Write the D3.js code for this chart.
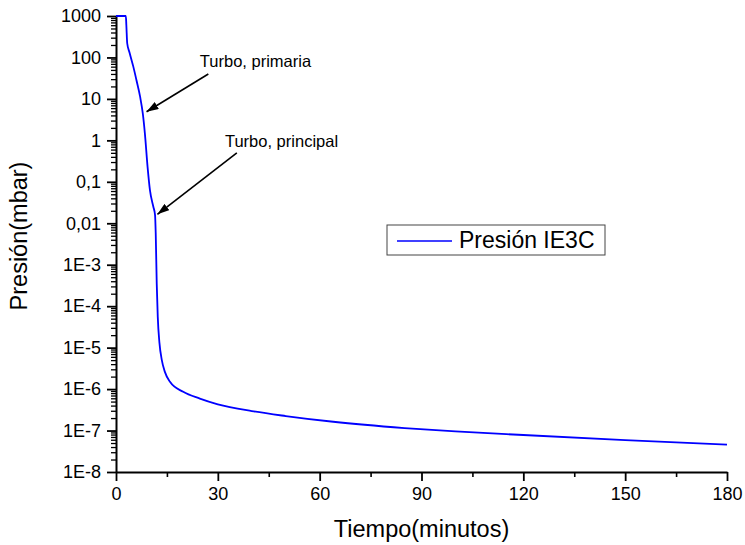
<!DOCTYPE html>
<html>
<head>
<meta charset="utf-8">
<script src="https://cdn.jsdelivr.net/npm/d3@7"></script>
<style>
  body { margin: 0; background: #fff; }
  svg text { font-family: "Liberation Sans", Arial, sans-serif; fill: #000; }
</style>
</head>
<body>
<svg id="chart" width="745" height="545"></svg>
<script>
/* ---------- data ---------- */
var timeMin = [0, 2.9, 3.05, 3.3, 4.0, 5.1, 6.0, 7.1, 7.9, 8.5, 9.3, 10.0, 11.0, 11.5, 11.7,
               12.0, 12.3, 12.8, 13.5, 14.4, 15.9, 19.8, 24.7, 30, 40, 50, 64, 85,
               100, 120, 150, 180];
var presion = [1000, 1000, 600, 220, 130, 60, 29, 11.3, 4.4, 1.5, 0.23, 0.063, 0.025, 0.016, 0.0058,
               3.5e-4, 5.6e-5, 1.3e-5, 5e-6, 2.6e-6, 1.5e-6, 8.6e-7, 5.9e-7, 4.3e-7, 2.95e-7, 2.24e-7, 1.63e-7, 1.15e-7,
               9.5e-8, 7.8e-8, 5.9e-8, 4.6e-8];

var xTicks = [0, 30, 60, 90, 120, 150, 180];
var xMinor = [15, 45, 75, 105, 135, 165];
var yTicks = [1000, 100, 10, 1, 0.1, 0.01, 1e-3, 1e-4, 1e-5, 1e-6, 1e-7, 1e-8];
var yLabels = ["1000", "100", "10", "1", "0,1", "0,01", "1E-3", "1E-4", "1E-5", "1E-6", "1E-7", "1E-8"];

var annText = ["Turbo, primaria", "Turbo, principal"];
var annTextAt = [[24.7, 60], [32.1, 0.70]];
var annTail = [[27.2, 40], [35.6, 0.50]];
var annTip = [[9.0, 4.9], [12.2, 0.0164]];

var seriesName = "Presión IE3C";

/* ---------- setup ---------- */
var svg = d3.select("#chart"),
    padL = 116, padR = 727, padT = 16, padB = 472;

var x = d3.scaleLinear().domain([0, 180]).range([padL, padR]);
var y = d3.scaleLog().domain([1e-8, 1000]).range([padB, padT]);

// minor log ticks 2..9 per decade
var yMinor = [];
for (var e = -8; e < 3; e++) {
    for (var k = 2; k <= 9; k++) yMinor.push(k * Math.pow(10, e));
}

/* ---------- axes ---------- */
svg.append("g")
    .attr("transform", "translate(0," + padB + ")")
    .call(d3.axisBottom(x).tickValues(xMinor).tickSize(5).tickSizeOuter(0).tickFormat(""))
    .call(function (g) { g.select(".domain").remove(); })
    .selectAll("line").attr("stroke-width", 1.6);

svg.append("g")
    .attr("transform", "translate(" + padL + ",0)")
    .call(d3.axisLeft(y).tickValues(yMinor).tickSize(5).tickSizeOuter(0).tickFormat(""))
    .call(function (g) { g.select(".domain").remove(); })
    .selectAll("line").attr("stroke-width", 1.3);

var xAxis = svg.append("g")
    .attr("transform", "translate(0," + padB + ")")
    .call(d3.axisBottom(x).tickValues(xTicks).tickSize(9).tickSizeOuter(0).tickPadding(6));

var yAxis = svg.append("g")
    .attr("transform", "translate(" + padL + ",0)")
    .call(d3.axisLeft(y).tickValues(yTicks).tickSize(9).tickSizeOuter(0).tickPadding(6)
        .tickFormat(function (d, i) { return yLabels[i]; }));

[xAxis, yAxis].forEach(function (g) {
    g.select(".domain").attr("stroke-width", 2);
    g.selectAll(".tick line").attr("stroke-width", 1.8);
    g.selectAll(".tick text").attr("font-size", 18).attr("font-family", "Liberation Sans, Arial, sans-serif");
});

// axis titles
svg.append("text")
    .attr("x", (padL + padR) / 2).attr("y", 537)
    .attr("text-anchor", "middle").attr("font-size", 23.5)
    .text("Tiempo(minutos)");

svg.append("text")
    .attr("transform", "translate(27," + 236 + ") rotate(-90)")
    .attr("text-anchor", "middle").attr("font-size", 23.5)
    .text("Presión(mbar)");

/* ---------- series ---------- */
var line = d3.line()
    .x(function (d) { return x(d[0]); })
    .y(function (d) { return y(d[1]); })
    .curve(d3.curveMonotoneX);

svg.append("path")
    .datum(d3.zip(timeMin, presion))
    .attr("fill", "none")
    .attr("stroke", "#0000ff")
    .attr("stroke-width", 1.8)
    .attr("d", line);

/* ---------- annotations ---------- */
svg.append("defs").append("marker")
    .attr("id", "arrow")
    .attr("viewBox", "0 0 12 8")
    .attr("refX", 12).attr("refY", 4)
    .attr("markerWidth", 12).attr("markerHeight", 8)
    .attr("markerUnits", "userSpaceOnUse")
    .attr("orient", "auto")
    .append("path").attr("d", "M0,0 L12,4 L0,8 Z").attr("fill", "#000");

annText.forEach(function (t, i) {
    svg.append("line")
        .attr("x1", x(annTail[i][0])).attr("y1", y(annTail[i][1]))
        .attr("x2", x(annTip[i][0])).attr("y2", y(annTip[i][1]))
        .attr("stroke", "#000").attr("stroke-width", 1.6)
        .attr("marker-end", "url(#arrow)");
    svg.append("text")
        .attr("x", x(annTextAt[i][0])).attr("y", y(annTextAt[i][1]))
        .attr("font-size", 16.5)
        .text(t);
});

/* ---------- legend ---------- */
var lg = svg.append("g").attr("transform", "translate(387,225)");
lg.append("rect").attr("width", 218).attr("height", 30)
    .attr("fill", "#fff").attr("stroke", "#444").attr("stroke-width", 1);
lg.append("line").attr("x1", 10).attr("x2", 65).attr("y1", 16).attr("y2", 16)
    .attr("stroke", "#0000ff").attr("stroke-width", 1.7);
lg.append("text").attr("x", 72).attr("y", 23).attr("font-size", 23).text(seriesName);
</script>
</body>
</html>
